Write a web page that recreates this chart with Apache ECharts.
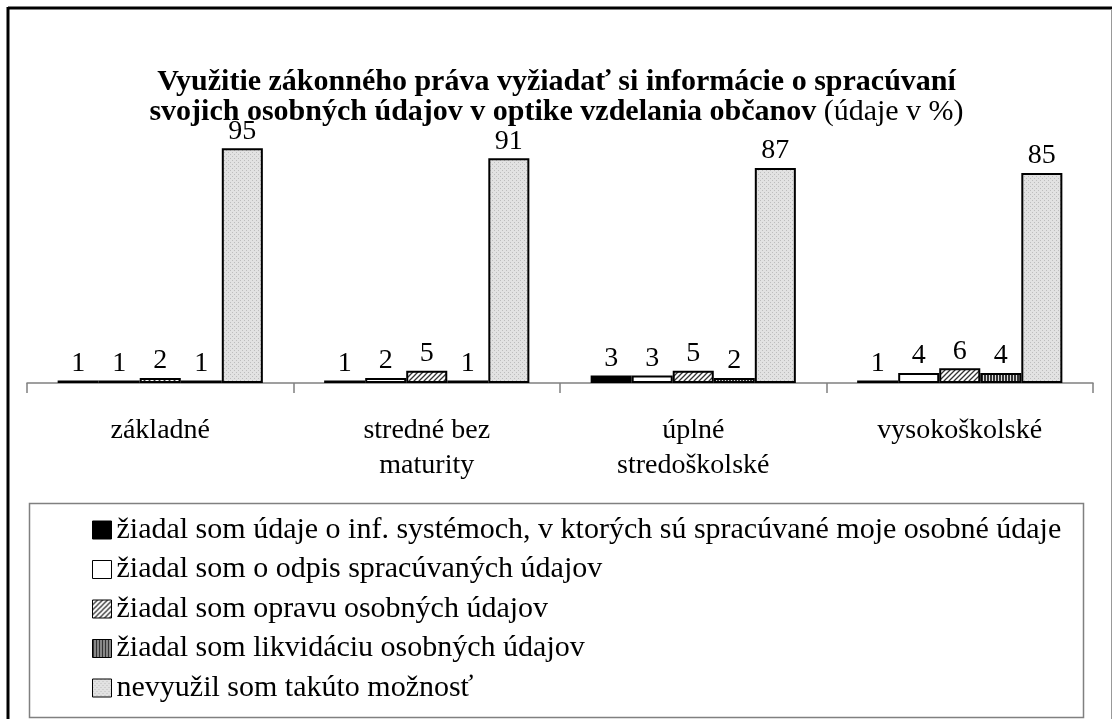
<!DOCTYPE html>
<html>
<head>
<meta charset="utf-8">
<script src="https://cdn.jsdelivr.net/npm/echarts@6/dist/echarts.min.js"></script>
<style>
  html, body { margin: 0; padding: 0; background: #fff; }
  #chart { width: 1113px; height: 719px; }
</style>
</head>
<body>
<div id="chart"></div>
<script>
// categories (education level)
var categories = ['základné', 'stredné bez\nmaturity', 'úplné\nstredoškolské', 'vysokoškolské'];

// series names
var seriesNames = [
  'žiadal som údaje o inf. systémoch, v ktorých sú spracúvané moje osobné údaje',
  'žiadal som o odpis spracúvaných údajov',
  'žiadal som opravu osobných údajov',
  'žiadal som likvidáciu osobných údajov',
  'nevyužil som takúto možnosť'
];

// values in % per category
var infSystemy = [1, 1, 3, 1];
var odpis = [1, 2, 3, 4];
var oprava = [2, 5, 5, 6];
var likvidacia = [1, 1, 2, 4];
var nevyuzil = [95, 91, 87, 85];

var seriesValues = [infSystemy, odpis, oprava, likvidacia, nevyuzil];

var FONT = '"Liberation Serif", "Times New Roman", serif';

// fill patterns like the old Excel chart
function pattern(kind) {
  var c = document.createElement('canvas');
  var ctx;
  if (kind === 'hatch') {
    c.width = 5; c.height = 5;
    ctx = c.getContext('2d');
    ctx.fillStyle = '#fff'; ctx.fillRect(0, 0, 5, 5);
    ctx.strokeStyle = '#333'; ctx.lineWidth = 1.3;
    ctx.beginPath();
    ctx.moveTo(-1, 6); ctx.lineTo(6, -1);
    ctx.moveTo(-1, 1); ctx.lineTo(1, -1);
    ctx.moveTo(4, 6); ctx.lineTo(6, 4);
    ctx.stroke();
  } else if (kind === 'vert') {
    c.width = 3; c.height = 3;
    ctx = c.getContext('2d');
    ctx.fillStyle = '#ddd'; ctx.fillRect(0, 0, 3, 3);
    ctx.fillStyle = '#333'; ctx.fillRect(0, 0, 2, 3);
  } else {
    c.width = 4; c.height = 4;
    ctx = c.getContext('2d');
    ctx.fillStyle = '#e2e2e2'; ctx.fillRect(0, 0, 4, 4);
    ctx.fillStyle = '#bdbdbd';
    ctx.fillRect(0, 0, 1, 1); ctx.fillRect(2, 2, 1, 1);
  }
  return { image: c, repeat: 'repeat' };
}

var fills = ['#000', '#fff', pattern('hatch'), pattern('vert'), pattern('dots')];

var chart = echarts.init(document.getElementById('chart'));

var series = [];
for (var i = 0; i < seriesNames.length; i++) {
  series.push({
    name: seriesNames[i],
    type: 'bar',
    data: seriesValues[i],
    barGap: '0%',
    barCategoryGap: '23%',
    itemStyle: { color: fills[i], borderColor: '#000', borderWidth: 2 },
    label: {
      show: true, position: 'top', distance: 3,
      fontFamily: FONT, fontSize: 28, color: '#000'
    },
    emphasis: { disabled: true }
  });
}

var option = {
  animation: false,
  backgroundColor: '#fff',
  title: {
    text: '{b|Využitie zákonného práva vyžiadať si informácie o spracúvaní}\n{b|svojich osobných údajov v optike vzdelania občanov}{n| (údaje v %)}',
    left: 'center',
    top: 62,
    textStyle: {
      rich: {
        b: { fontFamily: FONT, fontSize: 30, fontWeight: 'bold', color: '#000', lineHeight: 30 },
        n: { fontFamily: FONT, fontSize: 30, fontWeight: 'normal', color: '#000', lineHeight: 30 }
      }
    }
  },
  legend: {
    orient: 'vertical',
    left: 87,
    top: 510,
    height: 210,
    itemWidth: 19,
    itemHeight: 18,
    itemGap: 9.5,
    icon: 'rect',
    selectedMode: false,
    itemStyle: { borderColor: '#000', borderWidth: 1 },
    textStyle: { fontFamily: FONT, fontSize: 30, color: '#000', padding: [0, 0, 0, 0] },
    data: seriesNames
  },
  grid: { left: 27, right: 20, top: 136, bottom: 336 },
  xAxis: {
    type: 'category',
    data: categories,
    axisLine: { lineStyle: { color: '#808080', width: 1.5 } },
    axisTick: { show: true, length: 10, lineStyle: { color: '#808080', width: 1.5 } },
    axisLabel: {
      fontFamily: FONT, fontSize: 28, color: '#000', lineHeight: 35, margin: 30,
      interval: 0
    }
  },
  yAxis: { type: 'value', min: 0, max: 100, show: false },
  graphic: [
    { type: 'line', shape: { x1: 8, y1: 8, x2: 1112, y2: 8 }, style: { stroke: '#000', lineWidth: 3 } },
    { type: 'line', shape: { x1: 8, y1: 7, x2: 8, y2: 719 }, style: { stroke: '#000', lineWidth: 3 } },
    { type: 'line', shape: { x1: 1111.5, y1: 9, x2: 1111.5, y2: 719 }, style: { stroke: '#999', lineWidth: 1 } },
    { type: 'rect', shape: { x: 29.5, y: 503.5, width: 1054, height: 214 }, style: { fill: 'none', stroke: '#808080', lineWidth: 1.5 } }
  ],
  series: series
};

chart.setOption(option);
</script>
</body>
</html>
